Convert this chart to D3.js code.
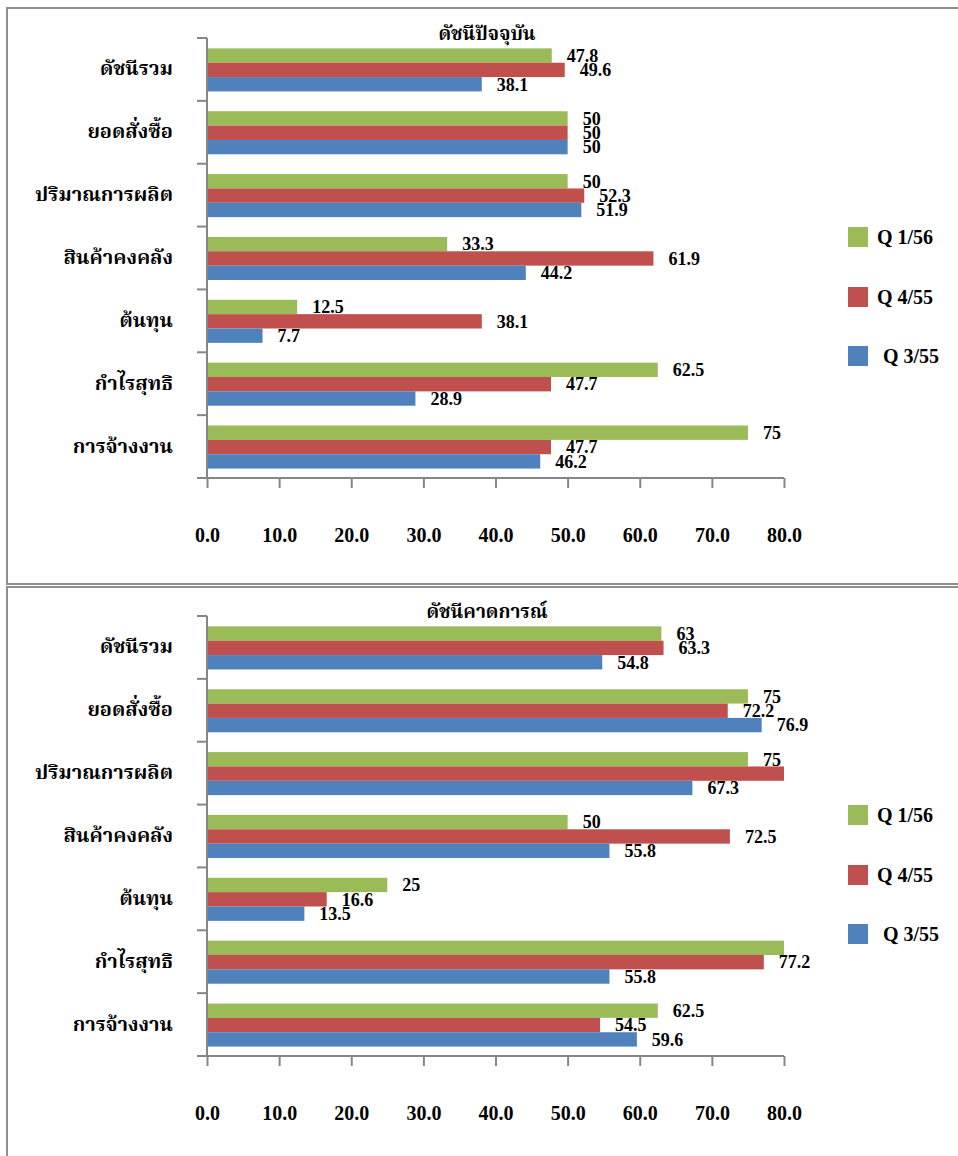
<!DOCTYPE html>
<html>
<head>
<meta charset="utf-8">
<script src="https://cdn.jsdelivr.net/npm/d3@7"></script>
<style>
  html, body { margin: 0; padding: 0; background: #fff; }
  svg { display: block; }
  .num { font-family: "Liberation Serif", "Times New Roman", serif; font-weight: bold; fill: #000; }
  .thai { font-family: "Liberation Serif", "Noto Serif Thai", "Noto Sans Thai", serif; font-weight: bold; fill: #000; }
</style>
</head>
<body>
<svg id="chart" width="958" height="1156"></svg>
<script>
// ---- data ----
const categories = ["ดัชนีรวม", "ยอดสั่งซื้อ", "ปริมาณการผลิต", "สินค้าคงคลัง", "ต้นทุน", "กำไรสุทธิ", "การจ้างงาน"];
const seriesNames = ["Q 1/56", "Q 4/55", "Q 3/55"];
const seriesColors = ["#9BBB59", "#C0504D", "#4F81BD"];
const xTicks = [0, 10, 20, 30, 40, 50, 60, 70, 80];

const titleCurrent = "ดัชนีปัจจุบัน";
const currentQ1_56 = [47.8, 50, 50, 33.3, 12.5, 62.5, 75];
const currentQ4_55 = [49.6, 50, 52.3, 61.9, 38.1, 47.7, 47.7];
const currentQ3_55 = [38.1, 50, 51.9, 44.2, 7.7, 28.9, 46.2];

const titleForecast = "ดัชนีคาดการณ์";
const forecastQ1_56 = [63, 75, 75, 50, 25, 84.6, 62.5];   // 84.6: bar runs past the 80 axis limit, value estimated
const forecastQ4_55 = [63.3, 72.2, 82.7, 72.5, 16.6, 77.2, 54.5]; // 82.7: bar runs past the 80 axis limit, value estimated
const forecastQ3_55 = [54.8, 76.9, 67.3, 55.8, 13.5, 55.8, 59.6];

const panels = [
  { title: titleCurrent, series: [currentQ1_56, currentQ4_55, currentQ3_55] },
  { title: titleForecast, series: [forecastQ1_56, forecastQ4_55, forecastQ3_55] }
];

// ---- drawing ----
const svg = d3.select("#chart");
const axisColor = "#868686";
const xMin = 0, xMax = 80;

// panel frames
svg.append("rect").attr("x", 7).attr("y", 8).attr("width", 980).attr("height", 576)
  .attr("fill", "none").attr("stroke", "#8f8f8f").attr("stroke-width", 2);
svg.append("rect").attr("x", 7).attr("y", 587).attr("width", 980).attr("height", 600)
  .attr("fill", "none").attr("stroke", "#8f8f8f").attr("stroke-width", 2);

function drawPanel(panel, dy) {
  const g = svg.append("g").attr("transform", `translate(0,${dy})`);
  const x = d3.scaleLinear().domain([xMin, xMax]).range([207, 784]);
  const y = d3.scaleBand().domain(categories).range([38, 478]).padding(0);
  const bw = y.bandwidth();
  const ySeries = d3.scaleBand().domain(seriesNames).range([bw * 0.165, bw * 0.85]).padding(0);

  // title
  g.append("text").attr("class", "thai")
    .attr("x", 487).attr("y", 40)
    .attr("text-anchor", "middle")
    .style("font-size", "19px")
    .text(panel.title);

  // bars
  panel.series.forEach((vals, si) => {
    const name = seriesNames[si];
    const rows = categories.map((c, i) => ({ c, v: vals[i] }));
    g.selectAll(null).data(rows).enter().append("rect")
      .attr("x", x(0))
      .attr("y", d => y(d.c) + ySeries(name))
      .attr("width", d => x(Math.min(d.v, xMax)) - x(0))
      .attr("height", ySeries.bandwidth())
      .attr("fill", seriesColors[si]);
    g.selectAll(null).data(rows.filter(d => d.v <= xMax)).enter().append("text")
      .attr("class", "num")
      .attr("x", d => x(d.v) + 15)
      .attr("y", d => y(d.c) + ySeries(name) + ySeries.bandwidth() / 2)
      .attr("dy", "0.35em")
      .style("font-size", "18px")
      .text(d => d3.format("")(d.v));
  });

  // category axis (left)
  const yAxis = d3.axisLeft(y).tickSize(0).tickFormat("");
  const ya = g.append("g").attr("transform", `translate(${x(0)},0)`).call(yAxis);
  ya.select(".domain").attr("stroke", axisColor).attr("stroke-width", 2).attr("d", `M0,38V478`);
  const bounds = y.domain().map(c => y(c)).concat([478]);
  g.selectAll(null).data(bounds).enter().append("line")
    .attr("x1", 197).attr("x2", x(0))
    .attr("y1", d => d).attr("y2", d => d)
    .attr("stroke", axisColor).attr("stroke-width", 2);

  // category labels
  g.selectAll(null).data(categories).enter().append("text")
    .attr("class", "thai")
    .attr("x", 173)
    .attr("y", d => y(d) + bw / 2 - 1)
    .attr("dy", "0.35em")
    .attr("text-anchor", "end")
    .style("font-size", "20px")
    .text(d => d);

  // value axis (bottom)
  const xAxis = d3.axisBottom(x).tickValues(xTicks).tickSize(10).tickPadding(40).tickFormat(d3.format(".1f"));
  const xa = g.append("g").attr("transform", "translate(0,478)").call(xAxis);
  xa.select(".domain").attr("stroke", axisColor).attr("stroke-width", 2).attr("d", `M${x(0)},0H${x(80)}`);
  xa.selectAll(".tick line").attr("stroke", axisColor).attr("stroke-width", 2);
  xa.selectAll(".tick text").attr("class", "num").attr("fill", "#000")
    .style("font-size", "20px").style("font-family", "'Liberation Serif', serif").style("font-weight", "bold");

  // legend
  const legY = [237, 297, 356];
  const legX = [877, 877, 883];
  seriesNames.forEach((n, i) => {
    g.append("rect").attr("x", 848).attr("y", legY[i] - 10).attr("width", 20).attr("height", 20)
      .attr("fill", seriesColors[i]);
    g.append("text").attr("class", "num")
      .attr("x", legX[i]).attr("y", legY[i]).attr("dy", "0.35em")
      .style("font-size", "20px")
      .text(n);
  });
}

drawPanel(panels[0], 0);
drawPanel(panels[1], 578);
</script>
</body>
</html>
